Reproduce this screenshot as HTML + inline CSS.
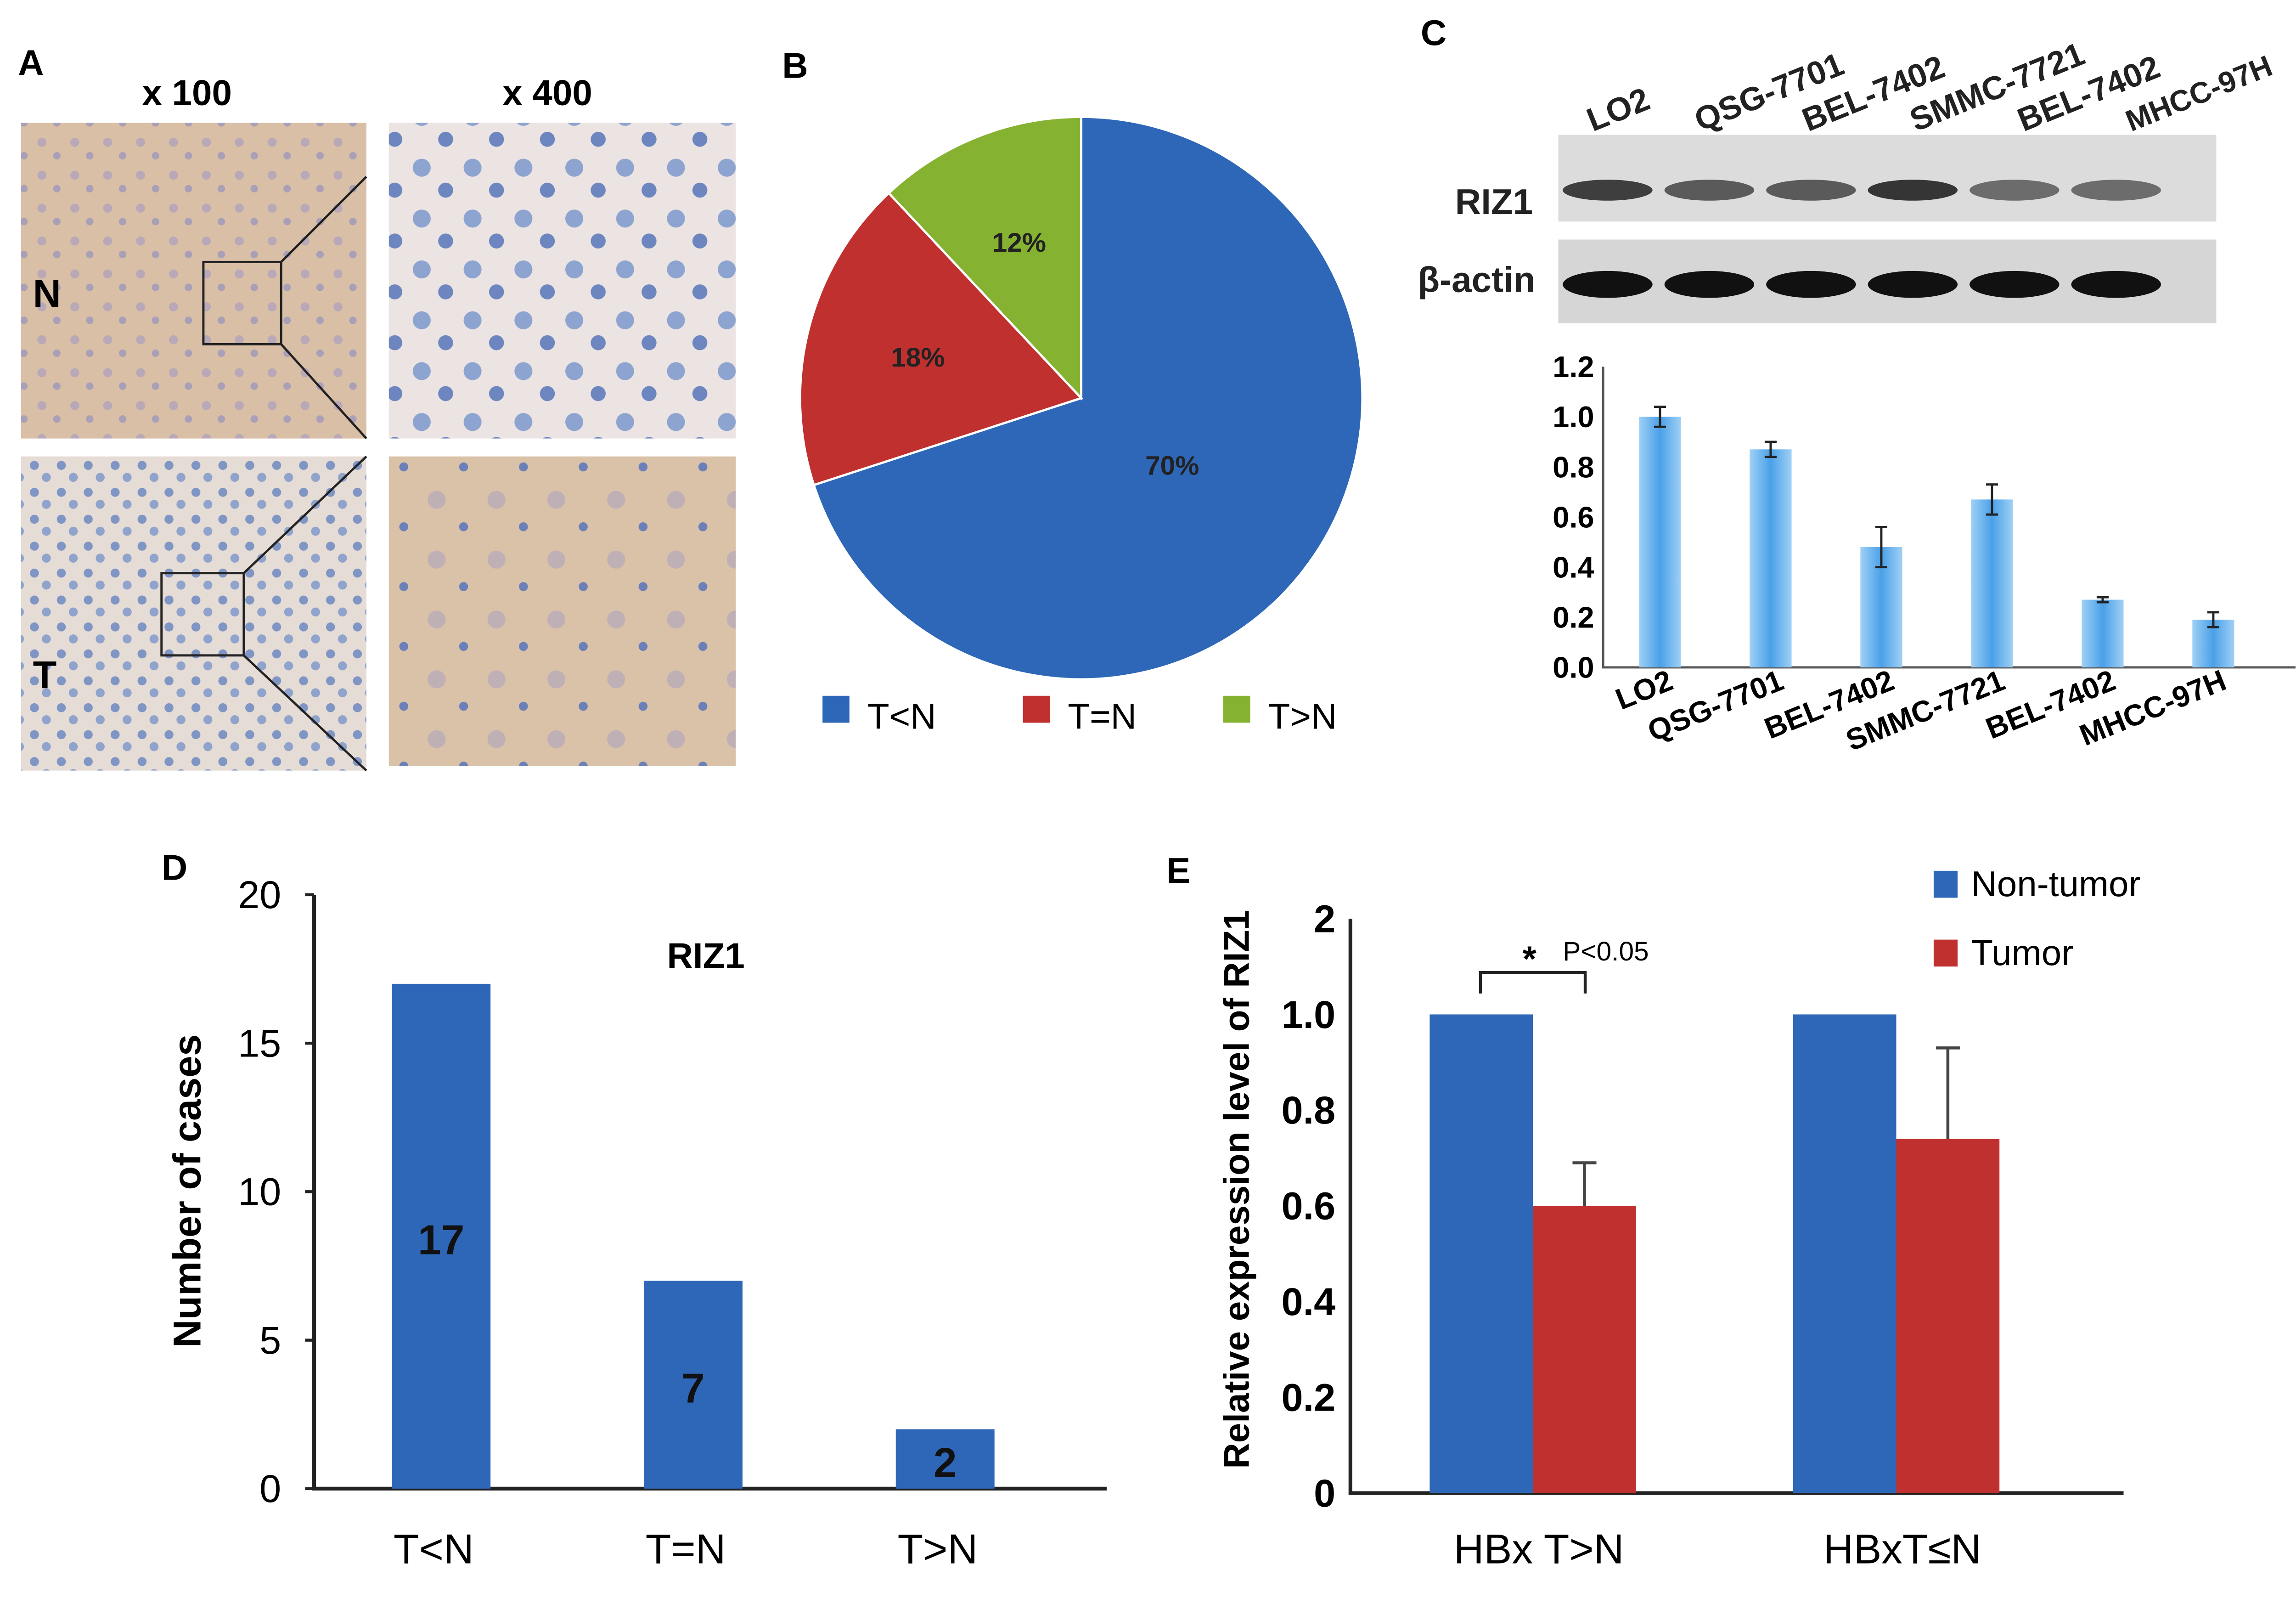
<!DOCTYPE html>
<html><head><meta charset="utf-8"><style>
html,body{margin:0;padding:0;background:#fff;}
svg{display:block;font-family:"Liberation Sans",Arial,sans-serif;}
</style></head><body>
<svg id="fig" width="5100" height="3492" viewBox="0 0 1566 1072" xmlns="http://www.w3.org/2000/svg">
<defs>
<pattern id="tan" width="22" height="22" patternUnits="userSpaceOnUse"><rect width="22" height="22" fill="#d8bfa6"/><circle cx="6" cy="7" r="3" fill="#b8a8b8"/><circle cx="16" cy="16" r="2.5" fill="#a9a0b8"/></pattern>
<pattern id="blue" width="18" height="18" patternUnits="userSpaceOnUse"><rect width="18" height="18" fill="#e6dcd6"/><circle cx="5" cy="5" r="3" fill="#7f95c4"/><circle cx="13" cy="13" r="3" fill="#8fa3cc"/></pattern>
<pattern id="cells" width="34" height="34" patternUnits="userSpaceOnUse"><rect width="34" height="34" fill="#ece4e2"/><circle cx="10" cy="10" r="6" fill="#8ea4d0"/><circle cx="26" cy="25" r="5" fill="#6d86c0"/></pattern>
<pattern id="tan2" width="40" height="40" patternUnits="userSpaceOnUse"><rect width="40" height="40" fill="#d9c2a8"/><circle cx="12" cy="14" r="6" fill="#bfb0b6"/><circle cx="30" cy="32" r="3" fill="#6b7fb8"/></pattern>
<linearGradient id="cg" x1="0" x2="1"><stop offset="0" stop-color="#9fd0f5"/><stop offset="0.5" stop-color="#4aa0e8"/><stop offset="1" stop-color="#9fd0f5"/></linearGradient>
</defs>
<g id="panelA">
<text x="12" y="50" font-size="24" font-weight="bold">A</text>
<text x="95" y="70" font-size="24" font-weight="bold">x 100</text>
<text x="336" y="70" font-size="24" font-weight="bold">x 400</text>
<rect x="14" y="82" width="231" height="211" fill="url(#tan)"/>
<rect x="260" y="82" width="232" height="211" fill="url(#cells)"/>
<rect x="14" y="305" width="231" height="210" fill="url(#blue)"/>
<rect x="260" y="305" width="232" height="207" fill="url(#tan2)"/>
<rect x="136" y="175" width="52" height="55" fill="none" stroke="#222" stroke-width="1.5"/>
<line x1="188" y1="175" x2="245" y2="118" stroke="#222" stroke-width="1.5"/><line x1="188" y1="230" x2="245" y2="293" stroke="#222" stroke-width="1.5"/>
<rect x="108" y="383" width="55" height="55" fill="none" stroke="#222" stroke-width="1.5"/>
<line x1="163" y1="383" x2="245" y2="305" stroke="#222" stroke-width="1.5"/><line x1="163" y1="438" x2="245" y2="515" stroke="#222" stroke-width="1.5"/>
<text x="22" y="205" font-size="26" font-weight="bold">N</text>
<text x="22" y="460" font-size="26" font-weight="bold">T</text>
</g>
<g id="panelB">
<text x="523" y="52" font-size="24" font-weight="bold">B</text>
</g>
<g id="panelC">
<text x="950" y="30" font-size="24" font-weight="bold">C</text>
<rect x="1042" y="90" width="440" height="58" fill="#dcdcdc"/>
<rect x="1042" y="160" width="440" height="56" fill="#d6d6d6"/>
<text x="973" y="143" font-size="24" font-weight="bold" fill="#222">RIZ1</text>
<text x="948" y="195" font-size="24" font-weight="bold" fill="#222">β-actin</text>
</g>
<g id="panelD">
<text x="108" y="588" font-size="24" font-weight="bold">D</text>
<text x="446" y="647" font-size="24" font-weight="bold">RIZ1</text>
<text transform="translate(134,796) rotate(-90)" text-anchor="middle" font-size="26" font-weight="bold">Number of cases</text>
</g>
<g id="panelE">
<text x="780" y="590" font-size="24" font-weight="bold">E</text>
<text transform="translate(835,795) rotate(-90)" text-anchor="middle" font-size="24" font-weight="bold">Relative expression level of RIZ1</text>
</g>
</svg>
<script>
const NS='http://www.w3.org/2000/svg';
function mk(parent,tag,attrs,text){const e=document.createElementNS(NS,tag);for(const k in attrs)e.setAttribute(k,attrs[k]);if(text!==undefined)e.textContent=text;parent.appendChild(e);return e;}
// ---- Data ----
const pieLabels=['T<N','T=N','T>N'];
const pieValues=[70,18,12];
const pieColors=['#2e67b8','#c0302f','#86b232'];
const cLanes=['LO2','QSG-7701','BEL-7402','SMMC-7721','BEL-7402','MHCC-97H'];
const cValues=[1.0,0.87,0.48,0.67,0.27,0.19];
const cErrors=[0.04,0.03,0.08,0.06,0.01,0.03];
const cTicks=[0,0.2,0.4,0.6,0.8,1.0,1.2];
const cBandIntensity=[0.85,0.7,0.7,0.9,0.6,0.6];
const dCats=['T<N','T=N','T>N'];
const dValues=[17,7,2];
const dTicks=[0,5,10,15,20];
const eGroups=['HBx T>N','HBxT≤N'];
const eNonTumor=[1.0,1.0];
const eTumor=[0.6,0.74];
const eTumorErr=[0.09,0.19];
const eTicks=[0,0.2,0.4,0.6,0.8,1.0,1.2];
const eTickLabels=['0','0.2','0.4','0.6','0.8','1.0','2'];

(function(){
const g=document.getElementById('panelB');
const cx=723,cy=266,r=188;const total=pieValues.reduce((a,b)=>a+b,0);
let a0=-Math.PI/2;
pieValues.forEach((v,i)=>{
 const a1=a0+v/total*2*Math.PI;
 const x0=cx+r*Math.cos(a0),y0=cy+r*Math.sin(a0),x1=cx+r*Math.cos(a1),y1=cy+r*Math.sin(a1);
 const p=mk(g,'path',{d:`M${cx},${cy}L${x0},${y0}A${r},${r} 0 ${a1-a0>Math.PI?1:0} 1 ${x1},${y1}Z`,fill:pieColors[i],stroke:'#fff','stroke-width':1.5});
 
 
 const am=(a0+a1)/2,lr=r*(i===0?0.4:0.6);
 const t=mk(g,'text',{x:cx+lr*Math.cos(am),y:cy+lr*Math.sin(am)+7,'text-anchor':'middle','font-size':18,'font-weight':'bold',fill:'#222'},v+'%');
 
 
 a0=a1;
});
pieLabels.forEach((l,i)=>{
 const x=550+i*134;
 const s=mk(g,'rect',{x:x,y:465,width:18,height:18,fill:pieColors[i]});
 
 
 const t=mk(g,'text',{x:x+30,y:487,'font-size':24},l);
 
 
});
})();

(function(){
const g=document.getElementById('panelC');
const x0=1072,step=74,first=1110,y0=446,ppu=167.5;
const y=v=>y0-v*ppu, xc=i=>first+i*step;
cLanes.forEach((l,i)=>{
 const bx=1075+i*68;
 const b1=mk(g,'ellipse',{cx:bx,cy:127,rx:30,ry:7,fill:'#222','fill-opacity':cBandIntensity[i]});
 
 
 const b2=mk(g,'ellipse',{cx:bx,cy:190,rx:30,ry:9,fill:'#111'});
 
 
 const t=mk(g,'text',{transform:`translate(${1065+i*72},${88}) rotate(-22)`,'font-size':i===5?20:22,'font-weight':'bold',fill:'#222'},l);
 
 
});
const ax=mk(g,'path',{d:`M${x0},${y(1.2)}V${y0}H1535`,stroke:'#555','stroke-width':1.5,fill:'none'});


cTicks.forEach(v=>{
 const t=mk(g,'text',{x:x0-6,y:y(v)+7,'text-anchor':'end','font-size':20,'font-weight':'bold'},v.toFixed(1));
 
 
});
cValues.forEach((v,i)=>{
 const b=mk(g,'rect',{x:xc(i)-14,y:y(v),width:28,height:v*ppu,fill:'url(#cg)'});
 
 
 const e=cErrors[i];
 const eb=mk(g,'path',{d:`M${xc(i)},${y(v+e)}V${y(v-e)}M${xc(i)-4},${y(v+e)}H${xc(i)+4}M${xc(i)-4},${y(v-e)}H${xc(i)+4}`,stroke:'#222','stroke-width':1.5});
 
 
 const t=mk(g,'text',{transform:`translate(${xc(i)+10},${y0+14}) rotate(-22)`,'text-anchor':'end','font-size':20,'font-weight':'bold'},cLanes[i]);
 
 
});
})();

(function(){
const g=document.getElementById('panelD');
const x0=210,y0=995,ppu=19.85,first=295,step=168.5,bw=66;
const y=v=>y0-v*ppu;
const ax=mk(g,'path',{d:`M${x0},${y(20)}V${y0}H740`,stroke:'#222','stroke-width':2.5,fill:'none'});


dTicks.forEach(v=>{
 mk(g,'line',{x1:x0-6,x2:x0,y1:y(v),y2:y(v),stroke:'#222','stroke-width':2});
 const t=mk(g,'text',{x:x0-22,y:y(v)+9,'text-anchor':'end','font-size':26},v);
 
 
});
dValues.forEach((v,i)=>{
 const cx=first+i*step;
 const b=mk(g,'rect',{x:cx-bw/2,y:y(v),width:bw,height:v*ppu,fill:'#2e67b8'});
 
 
 const t=mk(g,'text',{x:cx,y:(y(v)+y0)/2+12,'text-anchor':'middle','font-size':28,'font-weight':'bold',fill:'#111'},v);
 
 
 const l=mk(g,'text',{x:cx-5,y:1045,'text-anchor':'middle','font-size':28},dCats[i]);
 
 
});
})();

(function(){
const g=document.getElementById('panelE');
const x0=903,y0=998,ppu=320,bw=69,centers=[1025,1268];
const y=v=>y0-v*ppu;
const ax=mk(g,'path',{d:`M${x0},${y(1.2)}V${y0}H1420`,stroke:'#222','stroke-width':2.5,fill:'none'});


eTicks.forEach((v,i)=>{
 const t=mk(g,'text',{x:x0-10,y:y(v)+9,'text-anchor':'end','font-size':26,'font-weight':'bold'},eTickLabels[i]);
 
 
});
eGroups.forEach((gname,i)=>{
 const c=centers[i];
 const b1=mk(g,'rect',{x:c-bw,y:y(eNonTumor[i]),width:bw,height:eNonTumor[i]*ppu,fill:'#2e67b8'});
 
 
 const b2=mk(g,'rect',{x:c,y:y(eTumor[i]),width:bw,height:eTumor[i]*ppu,fill:'#c0302f'});
 
 
 const ex=c+bw/2,ev=eTumor[i]+eTumorErr[i];
 const eb=mk(g,'path',{d:`M${ex},${y(eTumor[i])}V${y(ev)}M${ex-8},${y(ev)}H${ex+8}`,stroke:'#444','stroke-width':2,fill:'none'});
 
 
 const l=mk(g,'text',{x:c+4,y:1045,'text-anchor':'middle','font-size':28},gname);
 
 
});
const br=mk(g,'path',{d:`M990,664V650H1060V664`,stroke:'#222','stroke-width':2,fill:'none'});


const st=mk(g,'text',{x:1018,y:649,'font-size':24,'font-weight':'bold'},'*');


const pv=mk(g,'text',{x:1045,y:642,'font-size':18},'P<0.05');


[['Non-tumor','#2e67b8',582],['Tumor','#c0302f',628]].forEach((d,i)=>{
 const s=mk(g,'rect',{x:1293,y:d[2],width:16,height:18,fill:d[1]});
 
 
 const t=mk(g,'text',{x:1318,y:d[2]+17,'font-size':24},d[0]);
 
 
});
})();
</script>
</body></html>
